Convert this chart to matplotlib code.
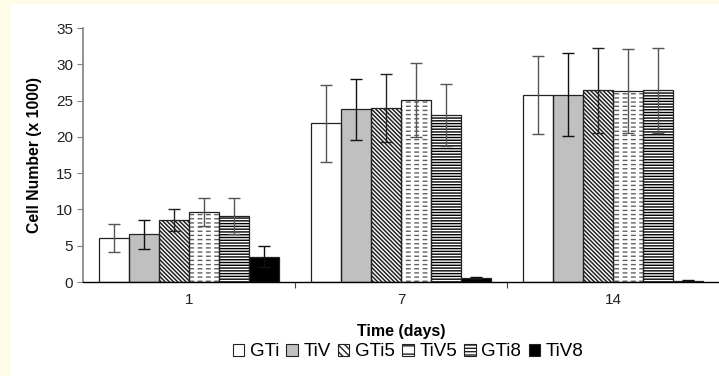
import numpy as np
import matplotlib
matplotlib.use("Agg")
import matplotlib.pyplot as plt
from matplotlib.patches import Rectangle, Patch

plt.rcParams['font.family'] = ['Liberation Sans', 'DejaVu Sans']
plt.rcParams['hatch.linewidth'] = 1.0

# data
days = ['1', '7', '14']
series = ['GTi', 'TiV', 'GTi5', 'TiV5', 'GTi8', 'TiV8']
gti = [6.1, 21.9, 25.8]
gti_err = [1.9, 5.3, 5.4]
tiv = [6.6, 23.8, 25.8]
tiv_err = [2.0, 4.2, 5.7]
gti5 = [8.5, 24.0, 26.4]
gti5_err = [1.5, 4.7, 5.9]
tiv5 = [9.6, 25.1, 26.3]
tiv5_err = [1.95, 5.1, 5.8]
gti8 = [9.1, 23.0, 26.4]
gti8_err = [2.5, 4.3, 5.9]
tiv8 = [3.5, 0.5, 0.2]
tiv8_err = [1.4, 0.15, 0.05]

values = [gti, tiv, gti5, tiv5, gti8, tiv8]
errors = [gti_err, tiv_err, gti5_err, tiv5_err, gti8_err, tiv8_err]

# look of each series: fill, hatch, hatch colour, error bar colour
fills = ['white', '#c0c0c0', 'white', 'white', 'white', 'black']
hatches = [None, None, '\\' * 8, '----', '-' * 6, None]
hatch_cols = ['black', 'black', '#222222', '#606060', 'black', 'black']
hatch_lws = [1.0, 1.0, 1.1, 1.0, 1.0, 1.0]
err_cols = ['#555555', '#111111', '#222222', '#555555', '#555555', '#111111']


def hatch_bar(pos, vals, hatch, col, lw):
    b = ax.bar(pos, vals, w, color='none', hatch=hatch, edgecolor=col,
               linewidth=0, zorder=2)
    for p in b.patches:
        if hasattr(p, 'set_hatch_linewidth'):
            p.set_hatch_linewidth(lw)


fig = plt.figure(figsize=(7.19, 3.76), dpi=100, facecolor='#fefbe8')
fig.patches.append(Rectangle((11 / 719, 0), 1, 372 / 376, transform=fig.transFigure,
                             facecolor='white', edgecolor='none', zorder=-5))
ax = fig.add_axes([83 / 719, 1 - 282 / 376, 1 - 83 / 719, 254 / 376])
ax.set_facecolor('none')

x = np.arange(len(days))
w = 0.1415
for i, name in enumerate(series):
    pos = x + (i - 2.5) * w
    ax.bar(pos, values[i], w, color=fills[i], linewidth=0, zorder=1)
    if hatches[i]:
        hatch_bar(pos, values[i], hatches[i], hatch_cols[i], hatch_lws[i])
    if name == 'TiV5':
        # break the grey lines into dashes
        hatch_bar(pos, values[i], '||', 'white', 2.5)
    ax.bar(pos, values[i], w, color='none', edgecolor='#222222',
           linewidth=0.9, zorder=3)
    ax.errorbar(pos, values[i], yerr=errors[i], fmt='none', ecolor=err_cols[i],
                elinewidth=1.0, capsize=4.5, capthick=1.0, zorder=4)

ax.set_xlim(-0.5, 2.5)
ax.set_ylim(0, 35)
ax.set_yticks(np.arange(0, 36, 5))
ax.set_xticks([0.5, 1.5])
ax.set_xticklabels([])
ax.set_xticks(x, minor=True)
ax.set_xticklabels(days, minor=True, fontsize=11)
ax.tick_params(axis='x', which='major', length=4, color='#444444', direction='out')
ax.tick_params(axis='x', which='minor', length=0, pad=8, labelcolor='#222222')
ax.tick_params(axis='y', length=4, color='#808080', labelsize=11,
               labelcolor='#222222', pad=3)

for s in ['top', 'right']:
    ax.spines[s].set_visible(False)
ax.spines['left'].set_color('#808080')
ax.spines['left'].set_linewidth(1.2)
ax.spines['bottom'].set_color('black')
ax.spines['bottom'].set_linewidth(1.0)

ax.set_ylabel('Cell Number (x 1000)', fontsize=11.3, fontweight='bold', labelpad=10)
ax.set_xlabel('Time (days)', fontsize=11.5, fontweight='bold', labelpad=12)

leg_hatches = [None, None, '\\' * 5, '--', '-' * 5, None]
handles = []
for i, name in enumerate(series):
    handles.append(Patch(facecolor=fills[i], edgecolor='#222222',
                         hatch=leg_hatches[i], linewidth=0.8, label=name))
fig.legend(handles=handles, loc='center', bbox_to_anchor=(408 / 719, 1 - 352 / 376),
           ncol=6, frameon=False, fontsize=13.5, handlelength=0.6, handleheight=0.6,
           handletextpad=0.3, columnspacing=0.4, borderaxespad=0)

fig.savefig('out.png', dpi=100, facecolor=fig.get_facecolor())
